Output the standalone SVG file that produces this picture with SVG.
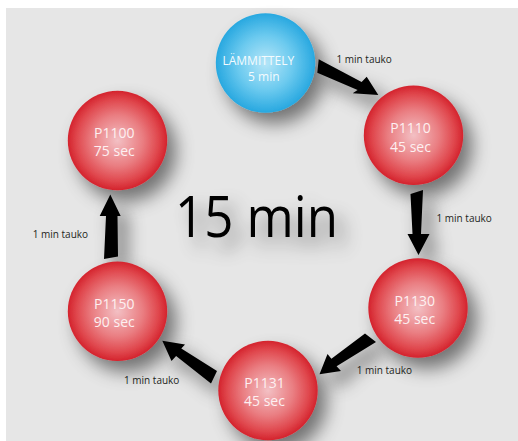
<svg xmlns="http://www.w3.org/2000/svg" width="518" height="441" viewBox="0 0 518 441">
  <defs>
    <radialGradient id="gRed" cx="50%" cy="50%" r="50%">
      <stop offset="0" stop-color="#f3c0c4"/>
      <stop offset="0.5" stop-color="#ea7f83"/>
      <stop offset="0.82" stop-color="#e0484e"/>
      <stop offset="1" stop-color="#d4232d"/>
    </radialGradient>
    <radialGradient id="gBlue" cx="50%" cy="50%" r="50%">
      <stop offset="0" stop-color="#b5e6f8"/>
      <stop offset="0.55" stop-color="#6ccaef"/>
      <stop offset="1" stop-color="#28a8e0"/>
    </radialGradient>
    <filter id="shadow" x="-50%" y="-50%" width="210%" height="210%">
      <feGaussianBlur in="SourceAlpha" stdDeviation="9"/>
      <feOffset dx="9" dy="11" result="b"/>
      <feFlood flood-color="#000" flood-opacity="0.5"/>
      <feComposite in2="b" operator="in"/>
      <feMerge><feMergeNode/><feMergeNode in="SourceGraphic"/></feMerge>
    </filter>
  </defs>
  <style>
    .node text { font-family: "Open Sans", "DejaVu Sans", sans-serif; font-size: 14px; fill: #fdf0f1; text-anchor: middle; }
    .red { fill: url(#gRed); }
    .blue { fill: url(#gBlue); }
    .arrow { fill: #000; }
    .lbl { font-family: "Open Sans", "DejaVu Sans", sans-serif; font-size: 10px; fill: #231f20; }
    .big { font-family: "Open Sans", "DejaVu Sans", sans-serif; font-size: 56px; fill: #000; }
  </style>
  <rect x="6" y="8" width="512" height="433" fill="#e6e6e6"/>

  <text class="big" x="175" y="237" textLength="163" lengthAdjust="spacingAndGlyphs" filter="url(#shadow)">15 min</text>

  <g id="connectors">
    <g filter="url(#shadow)">
      <polygon class="arrow" points="318.7,59.3 361.6,82 366.7,76.7 378.3,95 352.7,93.3 357.6,90 317.3,72.7"/>
      <polygon class="arrow" points="410.5,194 423,190 421,234 429.5,234 418.5,255 407.5,234 412.5,234"/>
      <polygon class="arrow" points="365,333.5 331.4,358.8 327.5,354 319.5,374.3 341,371 336.6,366.2 376,342"/>
      <polygon class="arrow" points="162.3,340.7 185,344.5 181.3,348.5 217,371 211,383.5 176.1,355.9 171.5,361"/>
      <polygon class="arrow" points="110.3,194.5 120.7,216 117.5,216 118,256.5 104,259 106,216 99.7,216"/>
    </g>
    <text class="lbl" x="336.5" y="62.7">1 min tauko</text>
    <text class="lbl" x="436.5" y="221.5">1 min tauko</text>
    <text class="lbl" x="356.7" y="373.7">1 min tauko</text>
    <text class="lbl" x="124" y="384">1 min tauko</text>
    <text class="lbl" x="32.7" y="238">1 min tauko</text>
  </g>

  <g id="node-lammittely" class="node">
    <circle class="blue" cx="265.5" cy="63" r="49.7" filter="url(#shadow)"/>
    <text x="258.3" y="65" style="font-size:12px;fill:#f4fbfe">LÄMMITTELY</text>
    <text x="263.8" y="80.7" style="font-size:12px;fill:#f4fbfe">5 min</text>
  </g>
  <g id="node-p1110" class="node">
    <circle class="red" cx="413.5" cy="135.3" r="49.7" filter="url(#shadow)"/>
    <text x="410.5" y="133.3">P1110</text>
    <text x="410.5" y="151.7">45 sec</text>
  </g>
  <g id="node-p1130" class="node">
    <circle class="red" cx="418" cy="308" r="49.7" filter="url(#shadow)"/>
    <text x="414.7" y="305.5">P1130</text>
    <text x="414.7" y="323.5">45 sec</text>
  </g>
  <g id="node-p1131" class="node">
    <circle class="red" cx="268" cy="390.5" r="49.7" filter="url(#shadow)"/>
    <text x="264.5" y="388.3">P1131</text>
    <text x="264.5" y="406">45 sec</text>
  </g>
  <g id="node-p1150" class="node">
    <circle class="red" cx="117.5" cy="311.3" r="49.7" filter="url(#shadow)"/>
    <text x="114.3" y="308.5">P1150</text>
    <text x="114.3" y="326.7">90 sec</text>
  </g>
  <g id="node-p1100" class="node">
    <circle class="red" cx="117.5" cy="140.5" r="49.7" filter="url(#shadow)"/>
    <text x="114.3" y="138.3">P1100</text>
    <text x="114.3" y="156">75 sec</text>
  </g>
</svg>
